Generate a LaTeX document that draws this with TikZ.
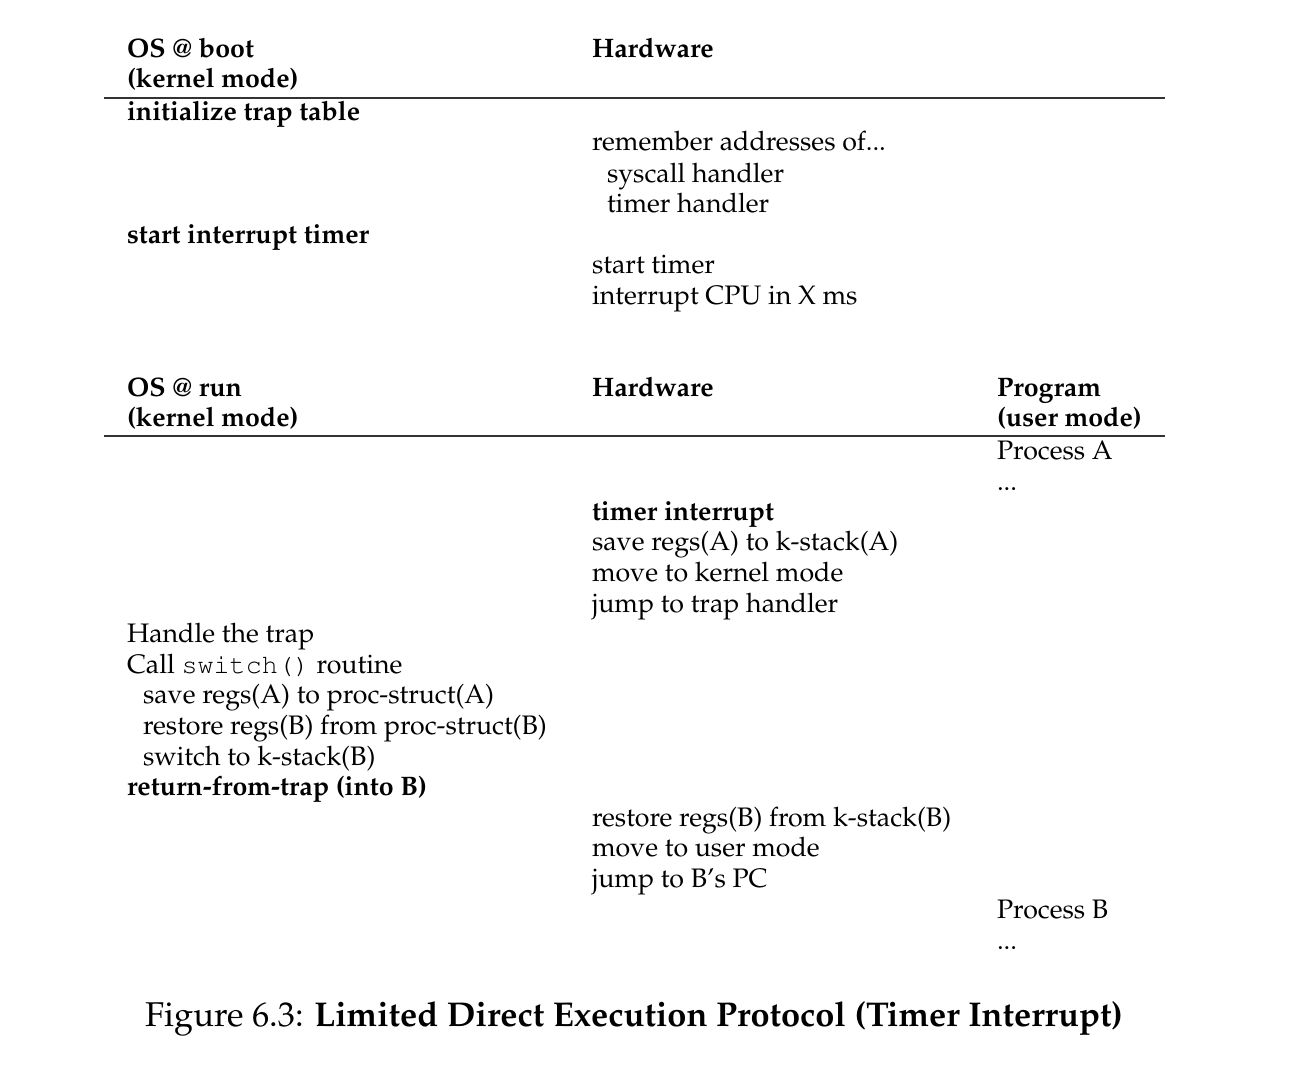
\documentclass[tikz,border=0pt]{standalone}
\usepackage[T1]{fontenc}
\usepackage{mathpazo}
\usepackage{courier}
\usetikzlibrary{positioning}
\newcommand{\bodysize}{\fontsize{10.7}{12.8}\selectfont}
\newcommand{\captsize}{\fontsize{13.75}{16}\selectfont}
\tikzset{
  cell/.style={anchor=base west, inner sep=0pt, outer sep=0pt, font=\bodysize},
  hcell/.style={cell, font=\bodysize\bfseries},
  hrule/.style={line width=0.6pt, black!80},
  capt/.style={anchor=base, inner sep=0pt, font=\captsize},
}
\begin{document}
\begin{tikzpicture}[x=0.4pt,y=-0.4pt]
  \useasboundingbox (0,0) rectangle (1292,1072);
  % boot phase
  \node[hcell] (osboot) at (127,58) {OS @ boot};
  \node[hcell] (osbootm) at (127,88) {(kernel mode)};
  \node[hcell] (hwboot) at (592,58) {Hardware};
  \coordinate (ruleAw) at (104,98);
  \coordinate (ruleAe) at (1165,98);
  \draw[hrule] (ruleAw) -- (ruleAe);
  \node[hcell] (inittrap) at (127,121) {initialize trap table};
  \node[cell] (remember) at (592,151) {remember addresses of...};
  \node[cell] (syscallh) at (607,182) {syscall handler};
  \node[cell] (timerh) at (607,212) {timer handler};
  \node[hcell] (starttimer) at (127,243) {start interrupt timer};
  \node[cell] (hwstart) at (592,273) {start timer};
  \node[cell] (hwint) at (592,304) {interrupt CPU in X ms};
  % run phase
  \node[hcell] (osrun) at (127,396) {OS @ run};
  \node[hcell] (osrunm) at (127,426) {(kernel mode)};
  \node[hcell] (hwrun) at (592,396) {Hardware};
  \node[hcell] (prog) at (997,396) {Program};
  \node[hcell] (progm) at (997,426) {(user mode)};
  \coordinate (ruleBw) at (104,436);
  \coordinate (ruleBe) at (1165,436);
  \draw[hrule] (ruleBw) -- (ruleBe);
  \node[cell] (procA) at (997,459) {Process A};
  \node[cell] (dotsA) at (997,490) {...};
  \node[hcell] (tint) at (592,520) {timer interrupt};
  \node[cell] (saveA) at (592,550) {save regs(A) to k-stack(A)};
  \node[cell] (tokern) at (592,581) {move to kernel mode};
  \node[cell] (jmptrap) at (592,612) {jump to trap handler};
  \node[cell] (handle) at (127,642) {Handle the trap};
  \node[cell] (callsw) at (127,673) {Call \texttt{switch()} routine};
  \node[cell] (saveps) at (143,703) {save regs(A) to proc-struct(A)};
  \node[cell] (restps) at (143,734) {restore regs(B) from proc-struct(B)};
  \node[cell] (swstack) at (143,765) {switch to k-stack(B)};
  \node[hcell] (rft) at (127,795) {return-from-trap (into B)};
  \node[cell] (restB) at (592,826) {restore regs(B) from k-stack(B)};
  \node[cell] (touser) at (592,856) {move to user mode};
  \node[cell] (jmpB) at (592,887) {jump to B's PC};
  \node[cell] (procB) at (997,918) {Process B};
  \node[cell] (dotsB) at (997,949) {...};
  % caption
  \node[capt] (caption) at (634,1026) {Figure 6.3: \textbf{Limited Direct Execution Protocol (Timer Interrupt)}};
\end{tikzpicture}
\end{document}
